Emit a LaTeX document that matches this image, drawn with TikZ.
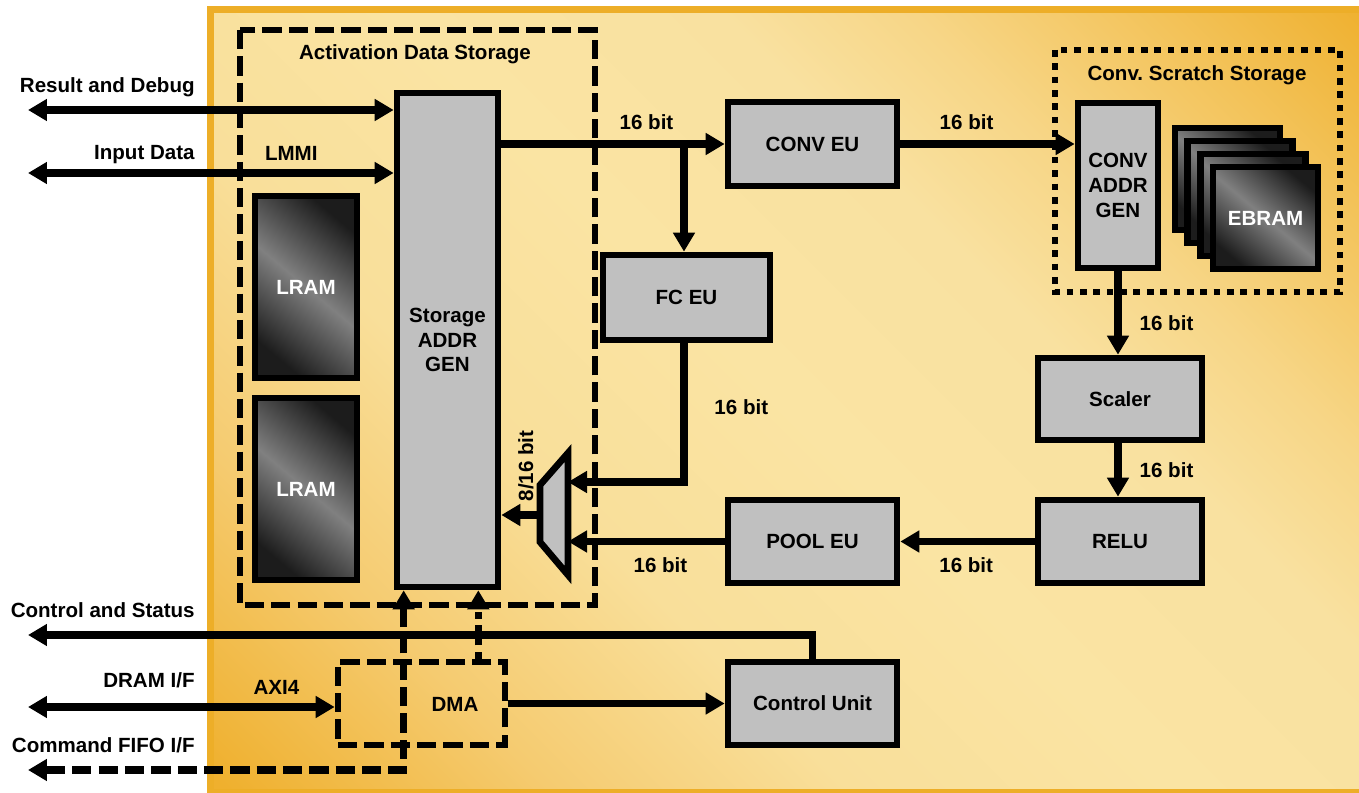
\documentclass[tikz,border=0pt]{standalone}
\usepackage{fontspec}
\setmainfont{Liberation Sans}
\usepackage{xcolor}
\usepackage{tikz}
\usetikzlibrary{positioning,arrows.meta,calc,shadings}
\frenchspacing
\definecolor{panelgold}{HTML}{EDAE28}
\definecolor{panellight}{HTML}{FAE4A3}
\definecolor{panelorange}{HTML}{EFB02E}
\definecolor{shadelo1}{HTML}{F5CB70}
\definecolor{shadelo2}{HTML}{F9DF9A}
\definecolor{shadehi1}{HTML}{F9E1A0}
\definecolor{shadehi2}{HTML}{F7D687}
\definecolor{shadehi3}{HTML}{F3C35A}
\definecolor{blockgray}{HTML}{C0C0C0}
\definecolor{ramdark}{HTML}{1C1C1C}
\definecolor{ramlight}{HTML}{808080}
\pgfdeclarehorizontalshading{panelshade}{100bp}{color(0bp)=(panelorange); color(15bp)=(panelorange);
  color(27bp)=(shadelo1); color(38bp)=(shadelo2); color(50bp)=(panellight); color(62bp)=(shadehi1);
  color(69bp)=(shadehi2); color(78bp)=(shadehi3); color(86bp)=(panelorange); color(100bp)=(panelorange)}
\tikzset{
  every node/.style={font=\fontsize{11.7}{14}\selectfont\bfseries},
  block/.style={
    rectangle, draw=black, fill=blockgray,
    line width=3.8pt, inner sep=0pt,
    align=center
  },
  ramblk/.style={
    rectangle, draw=black, line width=3.8pt, inner sep=0pt,
    top color=ramdark, bottom color=ramdark, middle color=ramlight,
    shading angle=-40, text=white
  },
  dashbox/.style={draw=black, line width=3.8pt, dash pattern=on 11pt off 4pt},
  dotbox/.style={draw=black, line width=3.8pt, dash pattern=on 3.8pt off 3.8pt},
  arrow/.style={
    -{Triangle[length=0.38cm,width=0.42cm]},
    line width=4pt, draw=black
  },
  biarrow/.style={
    {Triangle[length=0.38cm,width=0.42cm]}-{Triangle[length=0.38cm,width=0.42cm]},
    line width=4pt, draw=black
  },
  extlabel/.style={anchor=base east, inner sep=0pt},
}

\begin{document}
\begin{tikzpicture}[x=0.02cm, y=-0.02cm]
  \useasboundingbox (0,0) rectangle (1359,793);

  % panel
  \shade[shading=panelshade, shading angle=45] (212,11) rectangle (1359,790);
  \draw[panelgold, line width=3.5pt] (210.5,9.5) rectangle (1365,792);

  % storage groups
  \draw[dashbox] (240,30) rectangle (595,605);
  \node[anchor=base] (actlbl) at (415,60) {Activation Data Storage};
  \draw[dotbox] (1055,50) rectangle (1340,292);
  \node[anchor=base] (scrlbl) at (1197,81) {Conv. Scratch Storage};

  % blocks
  \node[block, minimum width=2.02cm, minimum height=9.88cm] (storage) at (447.5,340) {Storage\\ADDR\\GEN};
  \node[ramblk, minimum width=2.04cm, minimum height=3.64cm] (lram1) at (306,287) {LRAM};
  \node[ramblk, minimum width=2.04cm, minimum height=3.64cm] (lram2) at (306,489) {LRAM};
  \node[block, minimum width=3.38cm, minimum height=1.68cm] (conv) at (812.5,144) {CONV EU};
  \node[block, minimum width=3.34cm, minimum height=1.70cm] (fc) at (686.5,297.5) {FC EU};
  \node[block, minimum width=1.60cm, minimum height=3.30cm] (caddr) at (1118,185.5) {CONV\\ADDR\\GEN};
  \foreach \k in {0,...,3}
    \node[ramblk, minimum width=2.10cm, minimum height=2.04cm] (ebram\k) at (1227.5+12.7*\k,179+13*\k) {};
  \node[text=white] (ebramlbl) at (ebram3) {EBRAM};
  \node[block, minimum width=3.28cm, minimum height=1.64cm] (scaler) at (1120,399) {Scaler};
  \node[block, minimum width=3.28cm, minimum height=1.66cm] (relu) at (1120,541.5) {RELU};
  \node[block, minimum width=3.38cm, minimum height=1.66cm] (pool) at (812.5,541.5) {POOL EU};
  \node[block, minimum width=3.38cm, minimum height=1.66cm] (ctrl) at (812.5,703.5) {Control Unit};
  \node[dashbox, minimum width=3.34cm, minimum height=1.66cm] (dma) at (421.5,703.5) {};
  \node (dmalbl) at (455,704) {DMA};

  % mux
  \draw[block] (540,485) -- (568,453) -- (568,575) -- (540,542) -- cycle;
  \coordinate (mux-in1) at (568,482);
  \coordinate (mux-in2) at (568,541.5);
  \coordinate (mux-out) at (540,515);
  \node[rotate=90] (muxlbl) at (526,466) {8/16 bit};

  % external ports
  \coordinate (rd-end) at (28,110);
  \coordinate (in-end) at (28,173);
  \coordinate (cs-end) at (28,635);
  \coordinate (dram-end) at (28,707);
  \coordinate (cmd-end) at (28,770);
  \node[extlabel] (rdlbl) at (195,93) {Result and Debug};
  \node[extlabel] (inlbl) at (195,160) {Input Data};
  \node[extlabel] (cslbl) at (195,617) {Control and Status};
  \node[extlabel] (dramlbl) at (195,687) {DRAM I/F};
  \node[extlabel] (cmdlbl) at (195,752) {Command FIFO I/F};

  % connectors
  \draw[biarrow] (rd-end) -- (rd-end -| storage.west);
  \draw[biarrow] (in-end) -- (in-end -| storage.west) node[pos=0.72, above=2pt] (lmmi) {LMMI};
  \draw[arrow] (storage.east |- conv.west) -- (conv.west) node[pos=0.65, above=3pt] (b1) {16 bit};
  \coordinate (br) at (684,144);
  \draw[arrow] (br) -- (br |- fc.north);
  \draw[arrow] (conv.east) -- (conv.east -| caddr.west) node[pos=0.38, above=3pt] (b2) {16 bit};
  \draw[arrow] (caddr.south) -- (caddr.south |- scaler.north) node[pos=0.62, right=7pt] (b3) {16 bit};
  \draw[arrow] (scaler.south -| caddr.south) -- (relu.north -| caddr.south) node[pos=0.5, right=7pt] (b4) {16 bit};
  \draw[arrow] (relu.west) -- (pool.east) node[pos=0.51, below=4pt] (b5) {16 bit};
  \draw[arrow] (pool.west) -- (mux-in2) node[pos=0.41, below=4pt] (b6) {16 bit};
  \draw[arrow] (fc.south -| br) |- (mux-in1) node[pos=0.23, right=12pt] (b7) {16 bit};
  \draw[arrow] (mux-out) -- (mux-out -| storage.east);
  \draw[arrow] (ctrl.north) |- (cs-end);
  \draw[biarrow] (dram-end) -- (dram-end -| dma.west) node[pos=0.81, above=2pt] (axi) {AXI4};
  \draw[arrow] (dma.east) -- (ctrl.west);
  \draw[biarrow, dash pattern=on 11pt off 4pt] (cmd-end) -| ([xshift=0.2cm]storage.south west);
  \draw[arrow, dash pattern=on 3.8pt off 3.8pt] ([xshift=-0.6cm]dma.north east) -- ([xshift=-0.6cm]dma.north east |- storage.south);
\end{tikzpicture}
\end{document}
